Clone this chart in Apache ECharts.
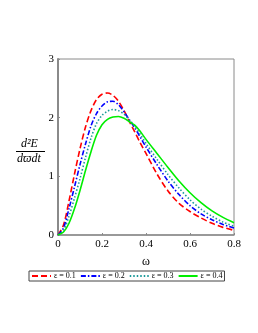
<!DOCTYPE html>
<html>
<head>
<meta charset="utf-8">
<script src="https://cdn.jsdelivr.net/npm/echarts@6/dist/echarts.min.js"></script>
<style>html,body{margin:0;padding:0;background:#fff;}#c{width:258px;height:333px;}</style>
</head>
<body>
<div id="c"></div>
<script>
const omega = [0, 0.025, 0.05, 0.075, 0.1, 0.125, 0.15, 0.175, 0.2, 0.225, 0.25, 0.275, 0.3, 0.325, 0.35, 0.375, 0.4, 0.45, 0.5, 0.55, 0.6, 0.65, 0.7, 0.75, 0.8];
const eps01 = [0, 0.17, 0.58, 1.04, 1.47, 1.84, 2.12, 2.31, 2.40, 2.42, 2.38, 2.28, 2.12, 1.93, 1.75, 1.56, 1.39, 1.04, 0.75, 0.54, 0.40, 0.29, 0.20, 0.13, 0.08];
const eps02 = [0, 0.12, 0.45, 0.82, 1.20, 1.55, 1.86, 2.07, 2.20, 2.27, 2.28, 2.22, 2.10, 1.96, 1.82, 1.66, 1.50, 1.20, 0.92, 0.69, 0.50, 0.36, 0.26, 0.18, 0.12];
const eps03 = [0, 0.08, 0.32, 0.63, 0.96, 1.32, 1.65, 1.90, 2.04, 2.11, 2.14, 2.12, 2.06, 1.96, 1.85, 1.71, 1.56, 1.29, 1.03, 0.80, 0.60, 0.44, 0.32, 0.22, 0.15];
const eps04 = [0, 0.05, 0.20, 0.45, 0.76, 1.10, 1.42, 1.70, 1.88, 1.97, 2.01, 2.02, 1.99, 1.93, 1.87, 1.76, 1.63, 1.39, 1.15, 0.92, 0.72, 0.55, 0.41, 0.30, 0.21];
const names = ['ε = 0.1', 'ε = 0.2', 'ε = 0.3', 'ε = 0.4'];
const xTicks = [0, 0.2, 0.4, 0.6, 0.8];
const yTicks = [0, 1, 2, 3];

const colors = ['#ff0000', '#0000ff', '#1a9a9a', '#00ee00'];
const dashes = [[6, 3], [5, 2, 1.5, 2], [1.5, 2], 'solid'];
const allY = [eps01, eps02, eps03, eps04];
const pairs = ys => omega.map((x, i) => [x, ys[i]]);

const chart = echarts.init(document.getElementById('c'), null, {renderer: 'canvas'});
const serif = 'Liberation Serif';
chart.setOption({
  animation: false,
  backgroundColor: '#fff',
  grid: {left: 58, right: 24, top: 59, bottom: 98, show: true, borderColor: '#8a8a8a', borderWidth: 1},
  xAxis: {
    type: 'value', min: xTicks[0], max: xTicks[xTicks.length - 1], interval: 0.2,
    name: 'ω', nameLocation: 'middle', nameGap: 21,
    nameTextStyle: {fontFamily: serif, fontSize: 12, color: '#000'},
    axisLine: {lineStyle: {color: '#8a8a8a', width: 1.5}},
    axisTick: {inside: true, length: 2, lineStyle: {color: '#8a8a8a'}},
    axisLabel: {fontFamily: serif, fontSize: 11, color: '#000', margin: 4},
    splitLine: {show: false}
  },
  yAxis: {
    type: 'value', min: yTicks[0], max: yTicks[yTicks.length - 1], interval: 1,
    axisLine: {show: true, lineStyle: {color: '#8a8a8a', width: 2}},
    axisTick: {show: true, inside: true, length: 2, lineStyle: {color: '#8a8a8a'}},
    axisLabel: {fontFamily: serif, fontSize: 11, color: '#000', margin: 4},
    splitLine: {show: false}
  },
  legend: {
    data: names, left: 29, top: 271, width: 200,
    itemWidth: 19, itemHeight: 8, itemGap: 4,
    itemStyle: {opacity: 0},
    padding: [1, 2, 1, 2], borderColor: '#444', borderWidth: 1,
    textStyle: {fontFamily: serif, fontSize: 8, color: '#000', padding: [0, 0, 0, -2]}
  },
  series: allY.map((ys, k) => ({
    name: names[k], type: 'line', data: pairs(ys), smooth: 0.3,
    showSymbol: false, symbol: 'none',
    lineStyle: {color: colors[k], width: 1.6, type: dashes[k]},
    itemStyle: {color: colors[k]}
  })),
  graphic: [
    {type: 'text', left: 21, top: 138, style: {text: 'd²E', font: 'italic 12px "Liberation Serif"', fill: '#000'}},
    {type: 'line', shape: {x1: 16, y1: 151.5, x2: 45, y2: 151.5}, style: {stroke: '#000', lineWidth: 1}},
    {type: 'text', left: 17, top: 153, style: {text: 'dϖdt', font: 'italic 12px "Liberation Serif"', fill: '#000'}}
  ]
});
</script>
</body>
</html>
